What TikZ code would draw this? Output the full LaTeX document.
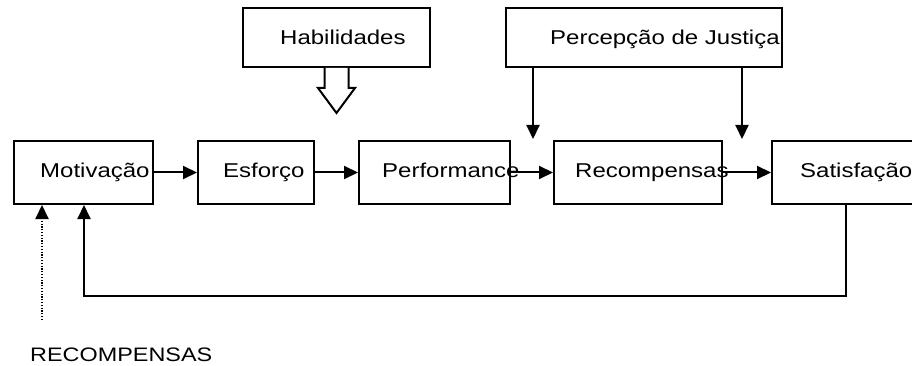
\documentclass[tikz,border=0pt]{standalone}
\usepackage{fontspec}
\setmainfont[FakeStretch=1.2]{Liberation Sans}
\newfontfamily\recfont[FakeStretch=1.2]{Liberation Sans}
\usetikzlibrary{arrows.meta}
\begin{document}
\begin{tikzpicture}[x=1pt,y=-1pt,
  box/.style={draw=black, line width=2pt, rectangle, inner sep=0pt},
  lbl/.style={anchor=base west, inner sep=0pt, font=\fontsize{20}{22}\selectfont},
  arr/.style={line width=2pt, -{Triangle[length=14pt,width=13pt]}},
  dotline/.style={line width=1.6pt, dash pattern=on 1.2pt off 1.6pt}
]
\useasboundingbox (0,0) rectangle (912,366);
\clip (0,0) rectangle (912,366);
% boxes
\node[box, minimum width=139pt, minimum height=63pt] (mot) at (83.5,172.5) {};
\node[box, minimum width=116pt, minimum height=63pt] (esf) at (256,172.5) {};
\node[box, minimum width=151pt, minimum height=63pt] (perf) at (434.5,172.5) {};
\node[box, minimum width=168pt, minimum height=63pt] (rec) at (638,172.5) {};
\node[box, minimum width=168pt, minimum height=63pt] (sat) at (856,172.5) {};
\node[box, minimum width=187pt, minimum height=59pt] (hab) at (336.5,37.5) {};
\node[box, minimum width=276pt, minimum height=59pt] (perc) at (644,37.5) {};
% horizontal arrows
\draw[arr] (mot.east) -- (esf.west);
\draw[arr] (esf.east) -- (perf.west);
\draw[arr] (perf.east) -- (rec.west);
\draw[arr] (rec.east) -- (sat.west);
% block arrow from Habilidades
\draw[line width=2pt, fill=white, line join=miter]
  (hab.south -| 324.5,0) -- (324.5,88) -- (318,88) -- (336.5,113) -- (355,88) -- (348.5,88) -- (hab.south -| 348.5,0);
% Percepcao arrows
\coordinate (p1) at (533,139);
\coordinate (p2) at (742,139);
\draw[arr] (perc.south -| p1) -- (p1);
\draw[arr] (perc.south -| p2) -- (p2);
% feedback loop
\coordinate (fb) at (846,296);
\coordinate (fm) at (84,296);
\draw[arr, line join=miter] (sat.south -| fb) -- (fb) -- (fm) -- (mot.south -| fm);
% dotted arrow
\coordinate (rs) at (42,320);
\draw[dotline] (rs) -- (42,218);
\draw[arr] (42,217) -- (mot.south -| rs);
% labels
\node[lbl] (tmot) at (40,178) {Motivação};
\node[lbl] (tesf) at (223,178) {Esforço};
\node[lbl] (tperf) at (382,178) {Performance};
\node[lbl] (trec) at (575,178) {Recompensas};
\node[lbl] (tsat) at (800,178) {Satisfação};
\node[lbl] (thab) at (280,45) {Habilidades};
\node[lbl] (tperc) at (550,45) {Percepção de Justiça};
\node[anchor=base west, inner sep=0pt, font=\recfont\fontsize{19.5}{22}\selectfont] (trs) at (30,361) {RECOMPENSAS};
\end{tikzpicture}
\end{document}
